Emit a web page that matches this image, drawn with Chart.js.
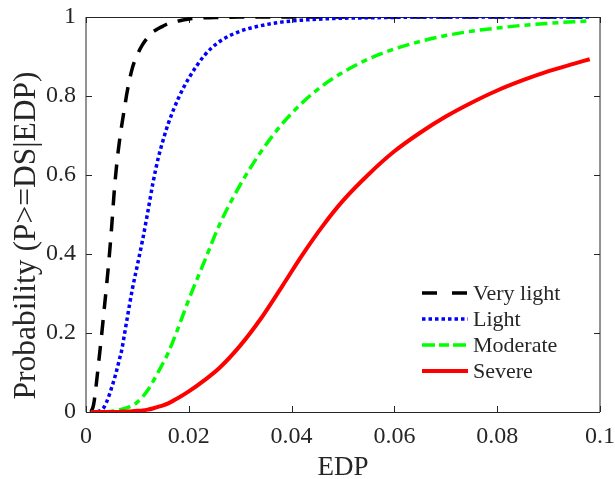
<!DOCTYPE html>
<html>
<head>
<meta charset="utf-8">
<title>Fragility curves</title>
<script src="https://cdn.jsdelivr.net/npm/chart.js@4/dist/chart.umd.min.js"></script>
<style>
  html, body { margin: 0; padding: 0; background: #ffffff; }
  #wrap { width: 615px; height: 479px; }
</style>
</head>
<body>
<div id="wrap"><canvas id="chart" width="615" height="479"></canvas></div>
<script>
// Engineering demand parameter (x) shared by all curves
const edp = [0.001, 0.0015, 0.002, 0.0025, 0.003, 0.0035, 0.004, 0.0045, 0.005, 0.0055,
             0.006, 0.0065, 0.007, 0.0075, 0.008, 0.009, 0.010, 0.011, 0.012, 0.013,
             0.014, 0.015, 0.016, 0.018, 0.020, 0.023, 0.026, 0.030, 0.034, 0.038,
             0.042, 0.046, 0.050, 0.055, 0.060, 0.065, 0.070, 0.075, 0.080, 0.085,
             0.090, 0.095, 0.098];

// Probability of reaching or exceeding each damage state
const veryLight = [0, 0.02, 0.07, 0.13, 0.19, 0.255, 0.32, 0.39, 0.47, 0.56,
                   0.63, 0.685, 0.73, 0.77, 0.81, 0.87, 0.905, 0.93, 0.948, 0.962,
                   0.97, 0.977, 0.983, 0.99, 0.995, 0.998, 0.999, 1, 1, 1,
                   1, 1, 1, 1, 1, 1, 1, 1, 1, 1,
                   1, 1, 1];
const light = [0, 0, 0.001, 0.002, 0.005, 0.012, 0.025, 0.042, 0.062, 0.083,
               0.107, 0.133, 0.16, 0.198, 0.236, 0.31, 0.372, 0.435, 0.505, 0.578,
               0.64, 0.688, 0.73, 0.795, 0.845, 0.902, 0.938, 0.964, 0.978, 0.987,
               0.992, 0.995, 0.997, 0.998, 0.999, 1, 1, 1, 1, 1,
               1, 1, 1];
const moderate = [0, 0, 0, 0, 0, 0, 0.001, 0.001, 0.002, 0.003,
                  0.004, 0.005, 0.007, 0.009, 0.011, 0.016, 0.025, 0.038, 0.055, 0.076,
                  0.1, 0.124, 0.15, 0.215, 0.285, 0.38, 0.475, 0.575, 0.658, 0.727,
                  0.782, 0.826, 0.86, 0.894, 0.919, 0.938, 0.953, 0.964, 0.972, 0.979,
                  0.984, 0.988, 0.99];
const severe = [0, 0, 0, 0, 0, 0, 0, 0, 0, 0,
                0, 0, 0.001, 0.001, 0.001, 0.002, 0.003, 0.004, 0.006, 0.009,
                0.013, 0.017, 0.022, 0.036, 0.052, 0.08, 0.112, 0.168, 0.236, 0.315,
                0.396, 0.47, 0.535, 0.602, 0.66, 0.707, 0.748, 0.783, 0.814, 0.84,
                0.863, 0.882, 0.893];

const seriesNames = ['Very light', 'Light', 'Moderate', 'Severe'];
const xTickLabels = ['0', '0.02', '0.04', '0.06', '0.08', '0.1'];
const yTickLabels = ['0', '0.2', '0.4', '0.6', '0.8', '1'];
const yTitle = 'Probability (P>=DS|EDP)';

const FONT = "'Liberation Serif', 'Times New Roman', serif";
const TEXT = '#262626';

const styles = [
  { color: '#000000', width: 3.5, dash: [15, 11], legendDash: [15, 15] },
  { color: '#0000ff', width: 3.5, dash: [3.5, 3], legendDash: [3.5, 3] },
  { color: '#00ff00', width: 3.5, dash: [12, 5, 6, 5], legendDash: [13, 4, 10, 4] },
  { color: '#ff0000', width: 4, dash: [], legendDash: [] }
];

const values = [veryLight, light, moderate, severe];

const datasets = values.map((ys, i) => ({
  label: seriesNames[i],
  data: edp.map((x, j) => ({ x: x, y: ys[j] })),
  borderColor: styles[i].color,
  borderWidth: styles[i].width,
  borderDash: styles[i].dash,
  borderCapStyle: 'butt',
  pointRadius: 0,
  fill: false,
  cubicInterpolationMode: 'monotone',
  order: values.length - 1 - i
}));

// Box around the axes with inward tick marks on all four sides
const frameAndTicks = {
  id: 'frameAndTicks',
  beforeDatasetsDraw(chart) {
    const { ctx, chartArea: a, scales } = chart;
    const len = 6;
    ctx.save();
    ctx.lineWidth = 1;
    ctx.strokeStyle = TEXT;
    ctx.beginPath();
    ctx.moveTo(a.left, a.top + 0.5); ctx.lineTo(a.right, a.top + 0.5);
    ctx.moveTo(a.left, a.bottom + 0.5); ctx.lineTo(a.right, a.bottom + 0.5);
    ctx.moveTo(a.left, a.top); ctx.lineTo(a.left, a.bottom);
    ctx.moveTo(a.right, a.top); ctx.lineTo(a.right, a.bottom);
    scales.x.ticks.forEach(t => {
      const px = Math.round(scales.x.getPixelForValue(t.value)) + 0.5;
      ctx.moveTo(px, a.bottom); ctx.lineTo(px, a.bottom - len);
      ctx.moveTo(px, a.top); ctx.lineTo(px, a.top + len);
    });
    scales.y.ticks.forEach(t => {
      const py = Math.round(scales.y.getPixelForValue(t.value)) + 0.5;
      ctx.moveTo(a.left, py); ctx.lineTo(a.left + len, py);
      ctx.moveTo(a.right, py); ctx.lineTo(a.right - len, py);
    });
    ctx.stroke();
    ctx.restore();
  }
};

// Rotated y-axis label, placed a little below the axis centre
const yAxisLabel = {
  id: 'yAxisLabel',
  afterDraw(chart) {
    const { ctx, chartArea: a } = chart;
    ctx.save();
    ctx.translate(27, (a.top + a.bottom) / 2 + 21);
    ctx.rotate(-Math.PI / 2);
    ctx.font = "31.5px " + FONT;
    ctx.fillStyle = TEXT;
    ctx.textAlign = 'center';
    ctx.textBaseline = 'middle';
    ctx.fillText(yTitle, 0, 0);
    ctx.restore();
  }
};

// Legend drawn inside the lower right of the axes, without a box
const insideLegend = {
  id: 'insideLegend',
  afterDatasetsDraw(chart) {
    const { ctx, chartArea: a } = chart;
    const x0 = a.right - 178, x1 = a.right - 132, tx = a.right - 127;
    const firstRow = a.top + 276, rowStep = 26;
    ctx.save();
    ctx.font = "22px " + FONT;
    ctx.textBaseline = 'middle';
    ctx.textAlign = 'left';
    chart.data.datasets.forEach((ds, i) => {
      const y = firstRow + i * rowStep;
      ctx.strokeStyle = ds.borderColor;
      ctx.lineWidth = ds.borderWidth;
      ctx.lineCap = 'butt';
      ctx.setLineDash(styles[i].legendDash);
      ctx.beginPath();
      ctx.moveTo(x0, y); ctx.lineTo(x1, y);
      ctx.stroke();
      ctx.setLineDash([]);
      ctx.fillStyle = TEXT;
      ctx.fillText(ds.label, tx, y + 1);
    });
    ctx.restore();
  }
};

new Chart(document.getElementById('chart'), {
  type: 'line',
  data: { datasets: datasets },
  options: {
    responsive: false,
    animation: false,
    devicePixelRatio: 1,
    layout: { padding: { top: 17, right: 15, left: 0, bottom: 0 } },
    plugins: { legend: { display: false }, tooltip: { enabled: false } },
    scales: {
      x: {
        type: 'linear',
        min: 0, max: 0.1,
        afterFit(scale) {
          scale.height = 67;
          scale.paddingLeft = 0; scale.paddingRight = 0;
        },
        grid: { display: false, drawTicks: false },
        border: { display: false },
        ticks: {
          stepSize: 0.02,
          padding: 10,
          color: TEXT,
          font: { family: FONT, size: 24 },
          maxRotation: 0,
          callback: (v, i) => xTickLabels[i]
        },
        title: {
          display: true, text: 'EDP', color: TEXT,
          font: { family: FONT, size: 27 },
          padding: { top: 0, bottom: -5 }
        }
      },
      y: {
        type: 'linear',
        min: 0, max: 1,
        afterFit(scale) {
          scale.width = 86;
          scale.paddingTop = 0; scale.paddingBottom = 0;
        },
        grid: { display: false, drawTicks: false },
        border: { display: false },
        ticks: {
          stepSize: 0.2,
          padding: 10,
          color: TEXT,
          font: { family: FONT, size: 24 },
          callback: (v, i) => yTickLabels[i]
        },
        title: { display: false }
      }
    }
  },
  plugins: [frameAndTicks, insideLegend, yAxisLabel]
});
</script>
</body>
</html>
